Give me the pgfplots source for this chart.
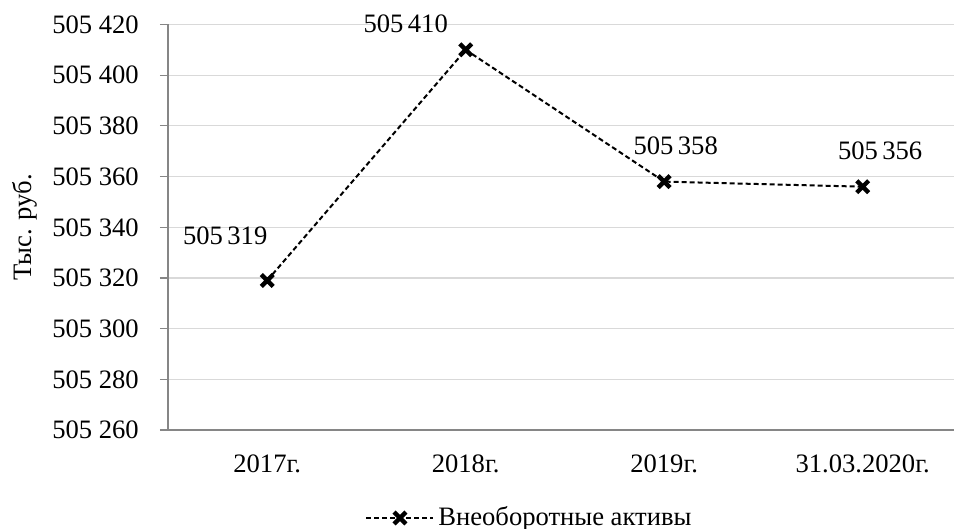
\documentclass[border=0pt]{standalone}
\usepackage{fontspec}
\setmainfont{Liberation Serif}
\usepackage{pgfplots}
\usepackage{pgfplotstable}
\pgfplotsset{compat=1.18}

\definecolor{gridgray}{HTML}{D9D9D9}
\definecolor{axisgray}{HTML}{868686}

\newcommand{\chartfont}{\rmfamily\fontsize{13.3}{16}\selectfont}

% year, value, label offset (pt)
\pgfplotstableread{
x  y       dx     dy
0  505319  -21    22.5
1  505410  -30    13.25
2  505358  5.75   17.75
3  505356  8.75   17.75
}\assets

\begin{document}
\chartfont
\begin{tikzpicture}
\path[use as bounding box] (-84pt,-49.5pt) rectangle (393pt,215pt);
\begin{axis}[
  at={(0pt,0pt)}, anchor=south west,
  scale only axis, width=393pt, height=202.75pt,
  xmin=-0.5, xmax=3.46,
  ymin=505260, ymax=505420,
  ytick={505260,505280,...,505420},
  scaled y ticks=false,
  axis x line*=bottom, axis y line*=left,
  axis line style={axisgray, line width=0.6pt, -},
  ymajorgrids, grid style={gridgray, line width=0.6pt},
  tick align=outside,
  major tick length=4pt,
  y tick style={axisgray, line width=0.6pt},
  xtick={0,1,2,3},
  xticklabels={2017г.,2018г.,2019г.,31.03.2020г.},
  x tick style={draw=none},
  extra x ticks={-0.5,0.5,1.5,2.5},
  extra x tick labels={},
  extra x tick style={grid=none, tick style={draw=axisgray, line width=0.6pt}},
  ticklabel style={font=\chartfont},
  yticklabel style={xshift=-6pt, /pgf/number format/.cd, fixed, precision=0, 1000 sep={\ }, assume math mode=true},
  xticklabel style={yshift=-4pt},
  ylabel={Тыс. руб.},
  ylabel style={at={(axis description cs:-0.182,0.5)}, anchor=center, font=\chartfont},
  legend style={at={(98.5pt,-44pt)}, anchor=west, draw=none, fill=none,
    font=\chartfont, inner sep=0pt},
  legend image code/.code={
    \draw[#1, mark repeat=2, mark phase=2] plot coordinates {(0pt,0pt) (16.75pt,0pt) (33.5pt,0pt)};
  },
  clip=false,
]
\addplot[black, line width=1pt, dash pattern=on 2.5pt off 1.5pt,
  mark=x, mark size=4.2pt, mark options={solid, line width=2.2pt},
  visualization depends on={\thisrow{dx} \as \dx},
  visualization depends on={\thisrow{dy} \as \dy},
  point meta=y,
  nodes near coords={\pgfmathprintnumber[fixed, precision=0, 1000 sep={\,}, assume math mode=true]{\pgfplotspointmeta}},
  nodes near coords align={center},
  every node near coord/.append style={anchor=center, xshift=\dx pt, yshift=\dy pt, inner sep=0pt, text=black, font=\chartfont},
] table[x=x, y=y] {\assets};
\addlegendentry{Внеоборотные активы}
\end{axis}
\end{tikzpicture}
\end{document}
